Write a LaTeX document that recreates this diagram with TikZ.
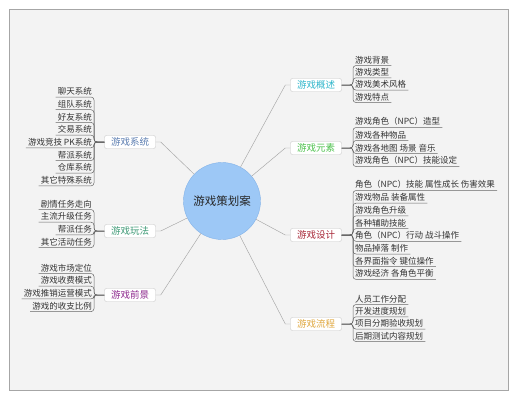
\documentclass[tikz,border=0pt]{standalone}
\usepackage{fontspec}
\newfontfamily\cjk{Noto Sans CJK SC}
\definecolor{fond}{HTML}{F3F3F3}
\definecolor{cadre}{HTML}{A6A6A6}
\definecolor{hubfill}{HTML}{9DC8F6}
\definecolor{hubdraw}{HTML}{82B2E8}
\definecolor{cxitong}{HTML}{5B7DB1}
\definecolor{cwanfa}{HTML}{3E9A76}
\definecolor{cqianjing}{HTML}{8E2A8E}
\definecolor{cgaishu}{HTML}{2FB6CB}
\definecolor{cyuansu}{HTML}{4BC14B}
\definecolor{csheji}{HTML}{A82838}
\definecolor{cliucheng}{HTML}{E0A840}

\begin{document}
\begin{tikzpicture}[x=1pt, y=-1pt,
  feuille/.style={font=\cjk\fontsize{8.5}{10}\selectfont, text=black!80, inner xsep=2pt, inner ysep=1.5pt},
  branche/.style={draw=black!22, fill=white, rounded corners=2pt, font=\cjk\fontsize{9.5}{11}\selectfont,
    minimum width=51pt, minimum height=13pt, inner sep=1pt},
  lien/.style={draw=black!35, line width=0.45pt},
  trait/.style={draw=black!60, line width=0.5pt, rounded corners=3pt}]
% Fond
\useasboundingbox (0,0) rectangle (517,400);
\fill[white] (0,0) rectangle (517,400);
\draw[fill=fond, draw=cadre, line width=0.8pt] (9.5,9.5) rectangle (508,390);
% Centre
\node[circle, fill=hubfill, draw=hubdraw, minimum size=77pt, inner sep=0pt,
  font=\cjk\fontsize{11.5}{13}\selectfont, text=black!85] (plan) at (222,201) {游戏策划案};
% Branches
\foreach \nom/\x/\y/\c/\t in {xitong/130/142/cxitong/游戏系统, wanfa/130/231/cwanfa/游戏玩法,
  qianjing/130/295/cqianjing/游戏前景, gaishu/316/85/cgaishu/游戏概述, yuansu/316/148/cyuansu/游戏元素,
  sheji/316/235/csheji/游戏设计, liucheng/316/324/cliucheng/游戏流程} {
  \node[branche, text=\c] (\nom) at (\x,\y) {\t};
}
\foreach \nom in {xitong,wanfa,qianjing} {
  \draw[lien] (plan) -- ([xshift=5pt]\nom.east) -- (\nom.east);
}
\foreach \nom in {gaishu,yuansu,sheji,liucheng} {
  \draw[lien] (plan) -- ([xshift=-5pt]\nom.west) -- (\nom.west);
}
% Feuilles gauche
\foreach \i/\y/\t in {1/92.5/聊天系统, 2/105.2/组队系统, 3/117.9/好友系统, 4/130.6/交易系统,
  5/143.3/游戏竞技 PK系统, 6/156/帮派系统, 7/168.7/仓库系统, 8/181.4/其它特殊系统} {
  \node[feuille, anchor=south east] (xitong\i) at (94,\y+4.5) {\t};
  \draw[trait] (xitong.west) -| (xitong\i.south east) -- (xitong\i.south west);
}
\foreach \i/\y/\t in {1/205/剧情任务走向, 2/217.7/主流升级任务, 3/230.4/帮派任务, 4/243.1/其它活动任务} {
  \node[feuille, anchor=south east] (wanfa\i) at (94,\y+4.5) {\t};
  \draw[trait] (wanfa.west) -| (wanfa\i.south east) -- (wanfa\i.south west);
}
\foreach \i/\y/\t in {1/269/游戏市场定位, 2/281.7/游戏收费模式, 3/294.4/游戏推销运营模式, 4/307.1/游戏的收支比例} {
  \node[feuille, anchor=south east] (qianjing\i) at (94,\y+4.5) {\t};
  \draw[trait] (qianjing.west) -| (qianjing\i.south east) -- (qianjing\i.south west);
}
% Feuilles droite
\foreach \i/\y/\t in {1/61/游戏背景, 2/73.3/游戏类型, 3/85.6/游戏美术风格, 4/98/游戏特点} {
  \node[feuille, anchor=south west] (gaishu\i) at (353,\y+4.5) {\t};
  \draw[trait] (gaishu.east) -| (gaishu\i.south west) -- (gaishu\i.south east);
}
\foreach \i/\y/\t in {1/123/游戏角色（NPC）造型, 2/136/游戏各种物品, 3/149/游戏各地图 场景 音乐,
  4/162/游戏角色（NPC）技能设定} {
  \node[feuille, anchor=south west] (yuansu\i) at (353,\y+4.5) {\t};
  \draw[trait] (yuansu.east) -| (yuansu\i.south west) -- (yuansu\i.south east);
}
\foreach \i/\y/\t in {1/186/角色（NPC）技能 属性成长 伤害效果, 2/198.7/游戏物品 装备属性, 3/211.4/游戏角色升级,
  4/224.1/各种辅助技能, 5/236.8/角色（NPC）行动 战斗操作, 6/249.5/物品掉落 制作,
  7/262.2/各界面指令 键位操作, 8/274.9/游戏经济 各角色平衡} {
  \node[feuille, anchor=south west] (sheji\i) at (353,\y+4.5) {\t};
  \draw[trait] (sheji.east) -| (sheji\i.south west) -- (sheji\i.south east);
}
\foreach \i/\y/\t in {1/300/人员工作分配, 2/312.3/开发进度规划, 3/324.6/项目分期验收规划, 4/337/后期测试内容规划} {
  \node[feuille, anchor=south west] (liucheng\i) at (353,\y+4.5) {\t};
  \draw[trait] (liucheng.east) -| (liucheng\i.south west) -- (liucheng\i.south east);
}
\end{tikzpicture}
\end{document}
